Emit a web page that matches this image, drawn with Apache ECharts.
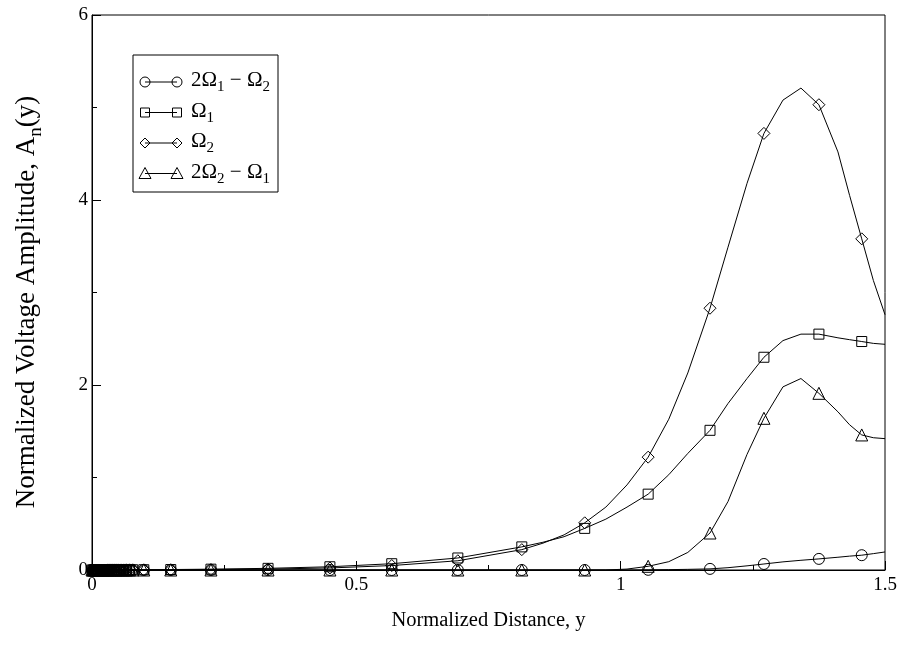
<!DOCTYPE html>
<html>
<head>
<meta charset="utf-8">
<script src="https://cdn.jsdelivr.net/npm/echarts@6/dist/echarts.min.js"></script>
<style>
  html, body { margin: 0; padding: 0; background: #fff; }
  #chart { width: 905px; height: 652px; }
</style>
</head>
<body>
<div id="chart"></div>
<script>
// normalized distance y: dense points at the start, then the coarser grid
const denseX = [0, 0.002, 0.004, 0.006, 0.008, 0.01, 0.012, 0.015, 0.018, 0.021, 0.024, 0.027,
  0.03, 0.034, 0.038, 0.042, 0.046, 0.05, 0.055, 0.06, 0.065, 0.071, 0.077];
const curveX = [0.098, 0.149, 0.225, 0.333, 0.45, 0.567, 0.692, 0.813, 0.853, 0.893, 0.932, 0.972, 1.012,
  1.052, 1.091, 1.127, 1.169, 1.203, 1.239, 1.271, 1.307, 1.341, 1.375, 1.411, 1.433, 1.456, 1.478, 1.5];
const xGrid = denseX.concat(curveX);

// points that carry a marker (all dense ones + these)
const markerX = denseX.concat([0.098, 0.149, 0.225, 0.333, 0.45, 0.567, 0.692, 0.813, 0.932,
  1.052, 1.169, 1.271, 1.375, 1.456]);

const amp2W1mW2 = [0, 0, 0, 0, 0, 0, 0, 0, 0, 0, 0, 0,
  0, 0, 0, 0, 0, 0, 0, 0, 0, 0, 0,
  0, 0, 0, 0, 0, 0, 0, 0, 0, 0, 0, 0, 0,
  0.002, 0.004, 0.007, 0.012, 0.025, 0.045, 0.065, 0.088, 0.105, 0.12, 0.138, 0.15, 0.16, 0.177, 0.195];

const ampW1 = [0, 0, 0, 0, 0, 0.001, 0.001, 0.001, 0.001, 0.001, 0.001, 0.001,
  0.001, 0.001, 0.002, 0.002, 0.002, 0.002, 0.002, 0.002, 0.003, 0.003, 0.003,
  0.003, 0.005, 0.009, 0.018, 0.035, 0.068, 0.13, 0.25, 0.30, 0.36, 0.45, 0.55, 0.68,
  0.82, 1.03, 1.26, 1.51, 1.80, 2.07, 2.30, 2.48, 2.55, 2.55, 2.51, 2.49, 2.47, 2.45, 2.44];

const ampW2 = [0, 0, 0, 0, 0, 0, 0, 0, 0, 0, 0, 0,
  0.001, 0.001, 0.001, 0.001, 0.001, 0.001, 0.001, 0.001, 0.002, 0.002, 0.002,
  0.002, 0.003, 0.005, 0.01, 0.022, 0.048, 0.10, 0.22, 0.29, 0.38, 0.51, 0.68, 0.92,
  1.22, 1.63, 2.13, 2.83, 3.49, 4.18, 4.72, 5.08, 5.21, 5.03, 4.52, 4.05, 3.58, 3.13, 2.76];

const amp2W2mW1 = [0, 0, 0, 0, 0, 0, 0, 0, 0, 0, 0, 0,
  0, 0, 0, 0, 0, 0, 0, 0, 0, 0, 0,
  0, 0, 0, 0, 0, 0, 0, 0, 0, 0, 0, 0, 0.01,
  0.04, 0.09, 0.19, 0.40, 0.74, 1.25, 1.64, 1.98, 2.07, 1.91, 1.71, 1.57, 1.46, 1.43, 1.42];

const xTicks = [0, 0.5, 1, 1.5];
const yTicks = [0, 2, 4, 6];

const FONT = 'Liberation Serif';

// main text + subscript styles for rich text
const makeRich = (size, sub, drop) => ({
  m: { fontFamily: FONT, fontSize: size, lineHeight: size, verticalAlign: 'top', fill: '#000' },
  s: { fontFamily: FONT, fontSize: sub, lineHeight: sub, padding: [drop, 0, 0, 0], verticalAlign: 'top', fill: '#000' }
});
const legendRich = makeRich(21, 15, 10);
const titleRich = makeRich(27, 19, 13);

const seriesDefs = [
  { name: '2Ω1 − Ω2', label: '{m|2Ω}{s|1}{m| − Ω}{s|2}', symbol: 'circle', size: 11, values: amp2W1mW2 },
  { name: 'Ω1', label: '{m|Ω}{s|1}', symbol: 'rect', size: 10, values: ampW1 },
  { name: 'Ω2', label: '{m|Ω}{s|2}', symbol: 'diamond', size: 12, values: ampW2 },
  { name: '2Ω2 − Ω1', label: '{m|2Ω}{s|2}{m| − Ω}{s|1}', symbol: 'triangle', size: 12, values: amp2W2mW1 }
];

const buildData = def => xGrid.map((x, i) => ({
  value: [x, def.values[i]],
  symbol: markerX.indexOf(x) >= 0 ? def.symbol : 'none'
}));

const series = seriesDefs.map(def => ({
  name: def.name,
  type: 'line',
  data: buildData(def),
  symbol: def.symbol,
  symbolSize: def.size,
  showAllSymbol: true,
  clip: false,
  lineStyle: { color: '#000', width: 1 },
  itemStyle: { color: 'rgba(0,0,0,0)', borderColor: '#000', borderWidth: 1 },
  emphasis: { disabled: true },
  animation: false
}));

// hand drawn legend: marker - line - marker, then label
const legendLeft = 133, legendTop = 55, rowH = 30.5;
const graphics = [];
graphics.push({
  type: 'rect',
  shape: { x: legendLeft, y: legendTop, width: 145, height: 137 },
  style: { fill: '#fff', stroke: '#000', lineWidth: 1 },
  z: 10
});
const markerShape = (kind, cx, cy) => {
  const st = { fill: 'none', stroke: '#000', lineWidth: 1 };
  if (kind === 'circle') return { type: 'circle', shape: { cx, cy, r: 5 }, style: st, z: 11 };
  if (kind === 'rect') return { type: 'rect', shape: { x: cx - 4.5, y: cy - 4.5, width: 9, height: 9 }, style: st, z: 11 };
  if (kind === 'diamond') return { type: 'polygon', shape: { points: [[cx, cy - 5], [cx + 5, cy], [cx, cy + 5], [cx - 5, cy]] }, style: st, z: 11 };
  return { type: 'polygon', shape: { points: [[cx, cy - 6], [cx + 6, cy + 5], [cx - 6, cy + 5]] }, style: st, z: 11 };
};
seriesDefs.forEach((def, i) => {
  const cy = legendTop + 27 + i * rowH;
  const x1 = legendLeft + 12, x2 = legendLeft + 44;
  graphics.push({
    type: 'line', shape: { x1: x1, y1: cy, x2: x2, y2: cy },
    style: { stroke: '#000', lineWidth: 1 }, z: 11
  });
  graphics.push(markerShape(def.symbol, x1, cy));
  graphics.push(markerShape(def.symbol, x2, cy));
  graphics.push({
    type: 'text',
    x: legendLeft + 58, y: cy - 12,
    style: { text: def.label, verticalAlign: 'top', rich: legendRich },
    z: 11
  });
});

// y axis title with subscript n
graphics.push({
  type: 'text',
  x: 27, y: 302,
  rotation: Math.PI / 2,
  style: {
    text: '{m|Normalized Voltage Amplitude, A}{s|n}{m|(y)}',
    align: 'center', verticalAlign: 'middle',
    rich: titleRich
  }
});

const chart = echarts.init(document.getElementById('chart'));
chart.setOption({
  backgroundColor: '#fff',
  animation: false,
  grid: { left: 92, right: 20, top: 15, bottom: 82, show: true, borderColor: '#000', borderWidth: 1, backgroundColor: 'transparent' },
  xAxis: {
    type: 'value',
    min: xTicks[0], max: xTicks[xTicks.length - 1], interval: 0.5,
    name: 'Normalized Distance, y',
    nameLocation: 'middle', nameGap: 40,
    nameTextStyle: { fontFamily: FONT, fontSize: 20.5, color: '#000' },
    axisLine: { lineStyle: { color: '#000', width: 1 } },
    axisTick: { inside: true, length: 9, lineStyle: { color: '#000' } },
    minorTick: { show: true, splitNumber: 2, length: 5, lineStyle: { color: '#000' } },
    splitLine: { show: false },
    axisLabel: {
      fontFamily: FONT, fontSize: 19, color: '#000', margin: 6,
      formatter: v => String(v)
    }
  },
  yAxis: {
    type: 'value',
    min: yTicks[0], max: yTicks[yTicks.length - 1], interval: 2,
    axisLine: { lineStyle: { color: '#000', width: 1 } },
    axisTick: { inside: true, length: 9, lineStyle: { color: '#000' } },
    minorTick: { show: true, splitNumber: 2, length: 5, lineStyle: { color: '#000' } },
    splitLine: { show: false },
    axisLabel: { fontFamily: FONT, fontSize: 19, color: '#000', margin: 4 }
  },
  graphic: graphics,
  series: series
});
</script>
</body>
</html>
